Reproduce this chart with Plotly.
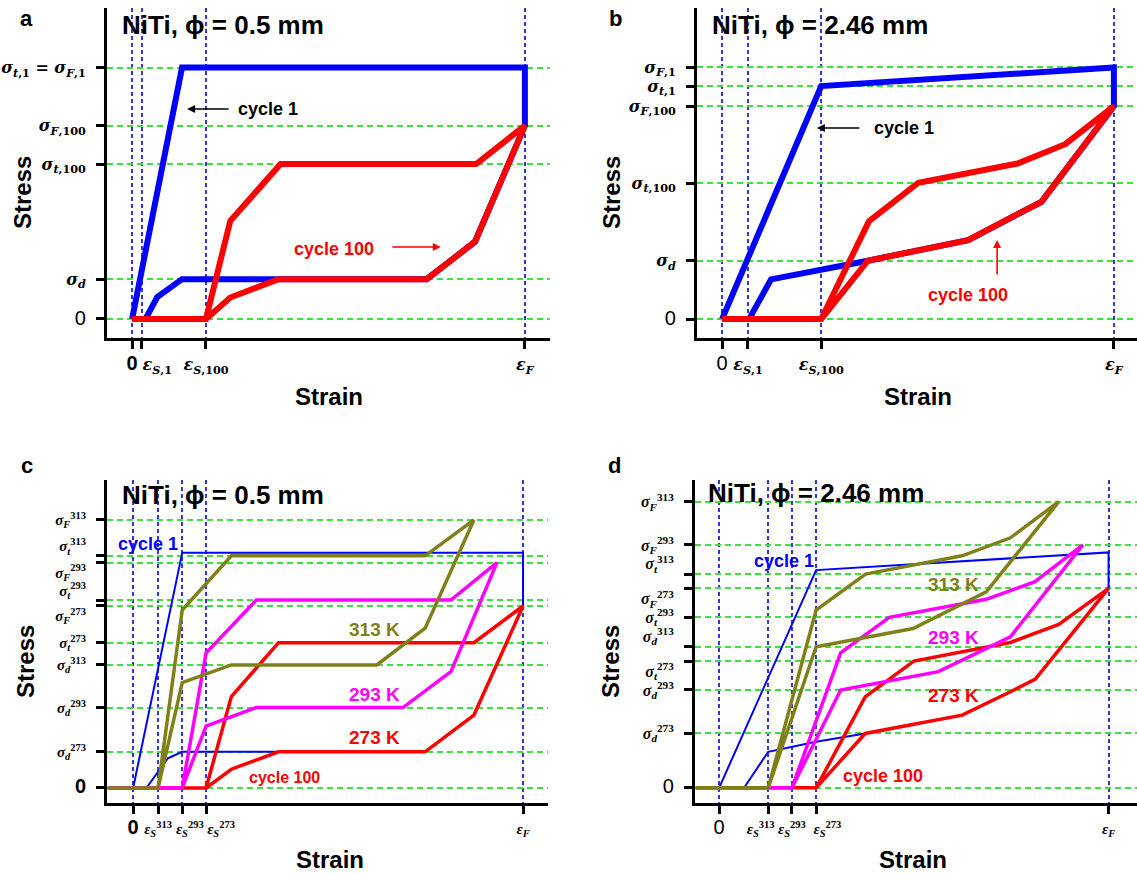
import plotly.graph_objects as go

W, H = 1137, 874

# ---------------- data (schematic units: strain 0..100 = 0..eps_F, stress in arbitrary units) -------------
# Panel a
A_XTICKS = [0, 2.5, 18.8, 100]
A_YTICKS = [0, 15.8, 61.6, 76.9, 100]
A_C1_X = [0, 12.7, 100, 100, 87.3, 75.0, 37.3, 12.7, 6.4, 3.4, 0]
A_C1_Y = [0, 100, 100, 76.9, 30.7, 15.8, 15.8, 15.8, 8.7, 0, 0]
A_C100_X = [0, 18.8, 25.0, 37.8, 87.6, 100, 87.3, 75.0, 37.3, 25.0, 18.8]
A_C100_Y = [0, 0, 39.0, 61.6, 61.6, 76.9, 30.7, 15.8, 15.8, 8.5, 0]

# Panel b
B_XTICKS = [0, 6.6, 25.3, 100]
B_YTICKS = [0, 23.2, 53.9, 84.6, 92.6, 100]
B_C1_X = [0, 25.3, 100, 100, 81.5, 74.9, 62.8, 37.2, 25.3, 12.5, 6.9, 0]
B_C1_Y = [0, 92.6, 100, 84.6, 46.6, 41.3, 31.4, 23.2, 19.7, 15.8, 0, 0]
B_C100_X = [0, 25.3, 37.5, 50.1, 75.4, 87.6, 100, 81.5, 74.9, 62.8, 37.2, 25.3]
B_C100_Y = [0, 0, 38.9, 54.2, 61.8, 69.5, 84.6, 46.6, 41.3, 31.4, 23.2, 0]

# Panel c
C_XTICKS = [0, 6.4, 12.6, 18.7, 100]
C_YTICKS = [0, 13.5, 30.0, 45.9, 54.2, 67.9, 70.1, 84.1, 86.6, 100]
C_C1_X = [0, 12.6, 100, 100, 87.4, 74.9, 37.3, 12.6, 8.9, 3.4, 0]
C_C1_Y = [0, 87.8, 87.8, 67.9, 27.2, 13.5, 13.5, 13.5, 11.1, 0, 0]
C_273_X = [-6.5, 18.7, 25.2, 37.3, 87.4, 100, 87.4, 74.9, 37.3, 25.2, 18.7]
C_273_Y = [0, 0, 34.1, 54.2, 54.2, 67.9, 27.2, 13.5, 13.5, 7.0, 0]
C_293_X = [-6.5, 12.6, 18.7, 31.6, 81.5, 93.3, 81.5, 69.2, 31.6, 18.7, 12.6]
C_293_Y = [0, 0, 50.3, 70.1, 70.1, 84.1, 43.4, 30.0, 30.0, 23.1, 0]
C_313_X = [-6.5, 6.4, 12.6, 25.2, 74.9, 87.4, 74.9, 62.5, 25.2, 12.6, 6.4]
C_313_Y = [0, 0, 66.4, 86.6, 86.6, 100, 59.6, 45.9, 45.9, 39.3, 0]

# Panel d
D_XTICKS = [0, 12.6, 18.7, 24.9, 100]
D_YTICKS = [0, 19.0, 34.2, 44.3, 49.3, 59.6, 69.7, 74.7, 84.9, 100]
D_C1_X = [0, 24.9, 100, 100, 81.2, 74.8, 62.4, 37.5, 24.9, 12.6, 6.4, 0]
D_C1_Y = [0, 76.1, 82.3, 69.7, 38.0, 33.6, 25.4, 19.0, 16.1, 12.6, 0, 0]
D_273_X = [-6.0, 24.9, 37.5, 50.0, 74.8, 87.2, 100, 81.2, 74.8, 62.4, 37.5, 24.9]
D_273_Y = [0, 0, 31.8, 44.3, 50.8, 57.1, 69.7, 38.0, 33.6, 25.4, 19.0, 0]
D_293_X = [-6.0, 18.7, 31.2, 43.7, 68.6, 81.0, 93.4, 74.8, 56.3, 31.2, 18.7]
D_293_Y = [0, 0, 47.2, 59.6, 65.9, 72.0, 84.9, 52.8, 40.6, 34.2, 0]
D_313_X = [-6.0, 12.6, 24.9, 37.6, 62.4, 74.8, 87.2, 68.6, 49.8, 24.9, 12.6]
D_313_Y = [0, 0, 62.1, 74.7, 81.1, 87.4, 100, 68.5, 55.7, 49.3, 0]

# ---------------- label helpers ----------------
SANS = "Liberation Sans, Arial, sans-serif"
SERIF = "Liberation Serif, DejaVu Serif, serif"
DSERIF = "DejaVu Serif, serif"
NB = "\u00a0"


def sig(sub, sup=None):
    s = "<b><i>σ</i><sub><i>%s</i></sub>" % sub
    if sup:
        s += "<sup>%s</sup>" % sup
    return s + "</b>"


def eps(sub, sup=None):
    s = "<b><i>ε</i><sub><i>%s</i></sub>" % sub
    if sup:
        s += "<sup>%s</sup>" % sup
    return s + "</b>"


def up(t):
    return t + "<br>" + NB


def down(t):
    return NB + "<br>" + t


ZERO = "<span style='font-family:Liberation Sans;font-size:20px'>0</span>"
ZEROB = "<span style='font-family:Liberation Sans;font-size:20px'><b>0</b></span>"

A_XLABELS = [ZEROB, NB * 6 + "<b><i>ε</i><sub><i>S</i>,1</sub></b>", "<b><i>ε</i><sub><i>S</i>,100</sub></b>",
             eps("F")]
A_YLABELS = [ZERO, sig("d"), "<b><i>σ</i><sub><i>t</i>,100</sub></b>", "<b><i>σ</i><sub><i>F</i>,100</sub></b>",
             "<b><i>σ</i><sub><i>t</i>,1</sub> = <i>σ</i><sub><i>F</i>,1</sub></b>"]
B_XLABELS = [ZERO, "<b><i>ε</i><sub><i>S</i>,1</sub></b>", A_XLABELS[2], eps("F")]
B_YLABELS = [ZERO, sig("d"), "<b><i>σ</i><sub><i>t</i>,100</sub></b>", "<b><i>σ</i><sub><i>F</i>,100</sub></b>",
             "<b><i>σ</i><sub><i>t</i>,1</sub></b>", "<b><i>σ</i><sub><i>F</i>,1</sub></b>"]
C_XLABELS = [ZEROB, eps("S", "313"), NB * 4 + eps("S", "293"), NB * 8 + eps("S", "273"), eps("F")]
C_YLABELS = [ZEROB, sig("d", "273"), sig("d", "293"), sig("d", "313"), sig("t", "273"), down(sig("F", "273")),
             up(sig("t", "293")), down(sig("F", "293")), up(sig("t", "313")), sig("F", "313")]
D_XLABELS = [ZERO, eps("S", "313") + NB * 4, eps("S", "293"), NB * 6 + eps("S", "273"), eps("F")]
D_YLABELS = [ZERO, sig("d", "273"), sig("d", "293"), down(sig("t", "273")), up(sig("d", "313")), sig("t", "293"),
             down(sig("F", "273")), up(sig("t", "313")), sig("F", "293"), sig("F", "313")]

BLUE = "#0000FF"
RED = "#FF0000"
MAG = "#FF00FF"
OLIVE = "#808019"

fig = go.Figure()


def line(x, y, color, width, ax):
    fig.add_trace(go.Scatter(x=x, y=y, mode="lines", line=dict(color=color, width=width),
                             xaxis="x" + ax, yaxis="y" + ax, showlegend=False, hoverinfo="skip"))


line(A_C1_X, A_C1_Y, BLUE, 6, "")
line(A_C100_X, A_C100_Y, RED, 6, "")
line(B_C1_X, B_C1_Y, BLUE, 6, "2")
line(B_C100_X, B_C100_Y, RED, 6, "2")
line(C_C1_X, C_C1_Y, BLUE, 2, "3")
line(C_273_X, C_273_Y, RED, 3.5, "3")
line(C_293_X, C_293_Y, MAG, 3.5, "3")
line(C_313_X, C_313_Y, OLIVE, 3.5, "3")
line(D_C1_X, D_C1_Y, BLUE, 2, "4")
line(D_273_X, D_273_Y, RED, 3.5, "4")
line(D_293_X, D_293_Y, MAG, 3.5, "4")
line(D_313_X, D_313_Y, OLIVE, 3.5, "4")


def xdom(p0, p1):
    return [p0 / W, p1 / W]


def ydom(top, bottom):
    return [1 - bottom / H, 1 - top / H]


def xax(dom, rng, tv, tt, anchor, fam, fs):
    return dict(domain=dom, range=rng, anchor=anchor, tickmode="array", tickvals=tv, ticktext=tt,
                tickangle=0, showline=True, linecolor="black", linewidth=3, ticks="outside", ticklen=8,
                tickwidth=3, tickcolor="black", showgrid=True, gridcolor="#3535e0", griddash="4px,3px",
                gridwidth=1.5, zeroline=False, tickfont=dict(family=fam, size=fs, color="black"),
                ticklabelstandoff=2)


def yax(dom, rng, tv, tt, anchor, fam, fs):
    return dict(domain=dom, range=rng, anchor=anchor, tickmode="array", tickvals=tv, ticktext=tt,
                showline=True, linecolor="black", linewidth=3, ticks="outside", ticklen=8, tickwidth=3,
                tickcolor="black", showgrid=True, gridcolor="#3ee03e", griddash="6px,4px", gridwidth=1.5,
                zeroline=False, tickfont=dict(family=fam, size=fs, color="black"), ticklabelstandoff=7)


fig.update_layout(
    width=W, height=H, margin=dict(l=0, r=0, t=0, b=0),
    paper_bgcolor="white", plot_bgcolor="white",
    xaxis=xax(xdom(107, 550), [-6.4, 106.4], A_XTICKS, A_XLABELS, "y", DSERIF, 16),
    yaxis=yax(ydom(8, 338), [-7.6, 123.7], A_YTICKS, A_YLABELS, "x", DSERIF, 16),
    xaxis2=xax(xdom(697, 1137), [-6.4, 105.9], B_XTICKS, B_XLABELS, "y2", DSERIF, 16),
    yaxis2=yax(ydom(8, 338), [-7.5, 123.6], B_YTICKS, B_YLABELS, "x2", DSERIF, 16),
    xaxis3=xax(xdom(107, 548), [-6.7, 106.4], C_XTICKS, C_XLABELS, "y3", SERIF, 15),
    yaxis3=yax(ydom(480, 803), [-5.6, 114.9], C_YTICKS, C_YLABELS, "x3", SERIF, 15),
    xaxis4=xax(xdom(695, 1137), [-6.2, 107.3], D_XTICKS, D_XLABELS, "y4", SERIF, 15),
    yaxis4=yax(ydom(480, 803), [-5.3, 107.6], D_YTICKS, D_YLABELS, "x4", SERIF, 16),
)

ann = []


def ptext(x, y, text, size, color="black", xanchor="center", angle=0):
    ann.append(dict(x=x / W, y=1 - y / H, xref="paper", yref="paper", text=text, showarrow=False,
                    font=dict(family=SANS, size=size, color=color), xanchor=xanchor, yanchor="middle",
                    textangle=angle))


# panel letters
for lx, ly, t in [(27, 19, "a"), (615, 19, "b"), (27, 465, "c"), (614, 465, "d")]:
    ptext(lx, ly, "<b>%s</b>" % t, 22)
# titles
ptext(120, 25, "<b>NiTi, ϕ = 0.5 mm</b>", 26, xanchor="left")
ptext(710, 25, "<b>NiTi, ϕ = 2.46 mm</b>", 26, xanchor="left")
ptext(120, 495, "<b>NiTi, ϕ = 0.5 mm</b>", 26, xanchor="left")
ptext(706, 493, "<b>NiTi, ϕ = 2.46 mm</b>", 26, xanchor="left")
# axis titles
for sx, sy in [(22, 193), (611, 193), (25, 662), (610, 662)]:
    ptext(sx, sy, "<b>Stress</b>", 24, angle=-90)
for sx, sy in [(329, 397), (918, 397), (330, 859), (913, 859)]:
    ptext(sx, sy, "<b>Strain</b>", 24)


def dtext(ax, x, y, text, size, color):
    ann.append(dict(x=x, y=y, xref="x" + ax, yref="y" + ax, text="<b>%s</b>" % text, showarrow=False,
                    font=dict(family=SANS, size=size, color=color), xanchor="center", yanchor="middle"))


def arrow(ax, x, y, dx, dy, color):
    ann.append(dict(x=x, y=y, xref="x" + ax, yref="y" + ax, text="", showarrow=True, ax=dx, ay=dy,
                    arrowhead=2, arrowsize=1, arrowwidth=1.6, arrowcolor=color))


# panel a annotations
dtext("", 34.7, 83.5, "cycle 1", 18, "black")
arrow("", 14.0, 83.5, 43, 0, "black")
dtext("", 51.4, 27.8, "cycle 100", 18, RED)
arrow("", 78.6, 28.6, -50, 0, RED)
# panel b
dtext("2", 46.4, 75.9, "cycle 1", 18, "black")
arrow("2", 24.2, 75.9, 44, 0, "black")
dtext("2", 62.8, 9.5, "cycle 100", 18, RED)
arrow("2", 70.2, 31.4, 0, 36, RED)
# panel c
dtext("3", 3.7, 91.0, "cycle 1", 18, BLUE)
dtext("3", 61.8, 59.0, "313 K", 19, OLIVE)
dtext("3", 61.8, 34.7, "293 K", 19, MAG)
dtext("3", 61.8, 18.7, "273 K", 19, RED)
dtext("3", 38.8, 4.1, "cycle 100", 16, RED)
# panel d
dtext("4", 16.6, 79.3, "cycle 1", 18, BLUE)
dtext("4", 60.2, 71.2, "313 K", 19, OLIVE)
dtext("4", 60.2, 52.7, "293 K", 19, MAG)
dtext("4", 60.2, 32.4, "273 K", 19, RED)
dtext("4", 42.0, 4.1, "cycle 100", 18, RED)

fig.update_layout(annotations=ann)
fig.write_html("out.html")
